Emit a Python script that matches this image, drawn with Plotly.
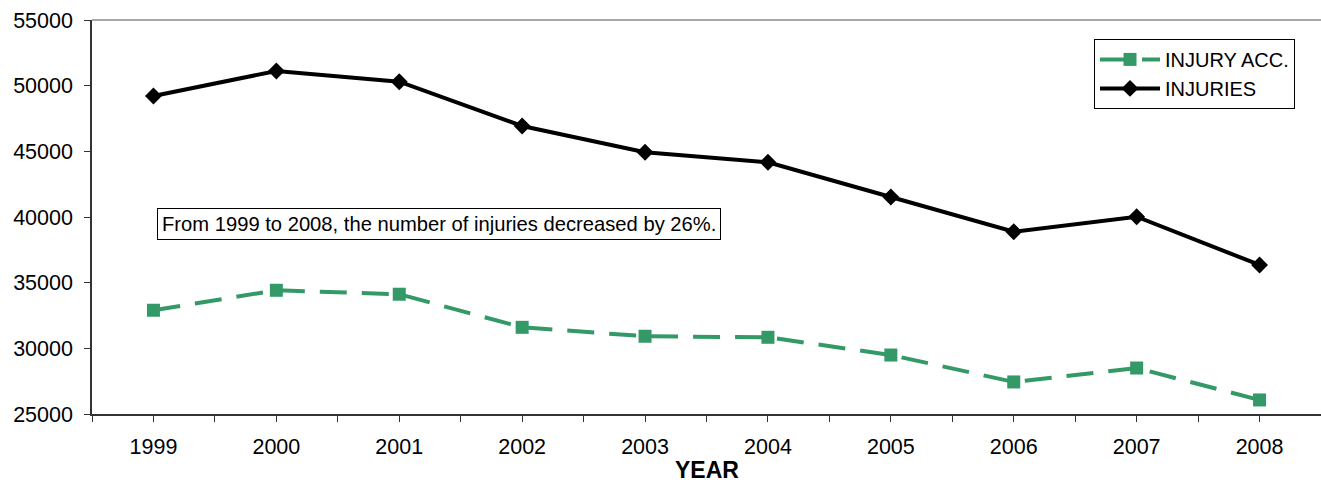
import plotly.graph_objects as go

years = [1999, 2000, 2001, 2002, 2003, 2004, 2005, 2006, 2007, 2008]
injury_acc = [32900, 34420, 34120, 31600, 30920, 30840, 29490, 27440, 28500, 26070]
injuries = [49210, 51120, 50300, 46930, 44930, 44170, 41520, 38880, 40020, 36350]
y_ticks = [25000, 30000, 35000, 40000, 45000, 50000, 55000]
note = "From 1999 to 2008, the number of injuries decreased by 26%."

GREEN = "#339966"
FONT = "Liberation Sans, Arial, sans-serif"

# tick marks at category centers and boundaries; labels only at centers
tickvals = []
ticktext = []
for i, y in enumerate(years):
    tickvals.append(y - 0.5)
    ticktext.append("")
    tickvals.append(y)
    ticktext.append(str(y))
tickvals.append(years[-1] + 0.5)
ticktext.append("")

fig = go.Figure()
fig.add_trace(go.Scatter(
    x=years, y=injury_acc, name="INJURY ACC.", mode="lines+markers",
    line=dict(color=GREEN, width=4, dash="27px,15px"),
    marker=dict(symbol="square", size=13, color=GREEN),
))
fig.add_trace(go.Scatter(
    x=years, y=injuries, name="INJURIES", mode="lines+markers",
    line=dict(color="black", width=4),
    marker=dict(symbol="diamond", size=13, color="black"),
))

fig.update_layout(
    width=1321, height=482,
    margin=dict(l=92, r=0, t=20, b=68, autoexpand=False),
    paper_bgcolor="white", plot_bgcolor="white",
    font=dict(family=FONT, size=21.5, color="black"),
    legend=dict(
        x=0.8153, y=0.952, xanchor="left", yanchor="top",
        bgcolor="white", bordercolor="black", borderwidth=1,
        font=dict(size=20, family=FONT), tracegroupgap=0,
        itemwidth=60,
    ),
    shapes=[dict(type="line", xref="paper", yref="paper", x0=0, x1=1, y0=1, y1=1,
                 line=dict(color="#8c8c8c", width=1.5))],
    annotations=[
        dict(
            text=note, xref="paper", yref="paper", x=0.282, y=0.481,
            xanchor="center", yanchor="middle", showarrow=False,
            font=dict(size=20.2, family=FONT, color="black"),
            bgcolor="white", bordercolor="black", borderwidth=1, borderpad=4,
        ),
        dict(
            text="<b>YEAR</b>", xref="paper", yref="paper", x=0.5, y=-0.141,
            xanchor="center", yanchor="middle", showarrow=False,
            font=dict(size=23, family=FONT, color="black"),
        ),
    ],
)
fig.update_xaxes(
    range=[years[0] - 0.5, years[-1] + 0.5],
    tickmode="array", tickvals=tickvals, ticktext=ticktext,
    ticks="outside", ticklen=6, tickcolor="#333333", tickwidth=1,
    showline=True, linecolor="#333333", linewidth=1.5,
    showgrid=False, zeroline=False, automargin=False,
    ticklabelstandoff=6,
)
fig.update_yaxes(
    range=[y_ticks[0], y_ticks[-1]],
    tickmode="array", tickvals=y_ticks, ticktext=[str(v) for v in y_ticks],
    ticks="outside", ticklen=6, tickcolor="#333333", tickwidth=1,
    showline=True, linecolor="#333333", linewidth=1.5,
    showgrid=False, zeroline=False, automargin=False,
    ticklabelstandoff=7,
)

fig.write_html("out.html", config={"displayModeBar": False},
               post_script="document.body.style.margin='0';")
